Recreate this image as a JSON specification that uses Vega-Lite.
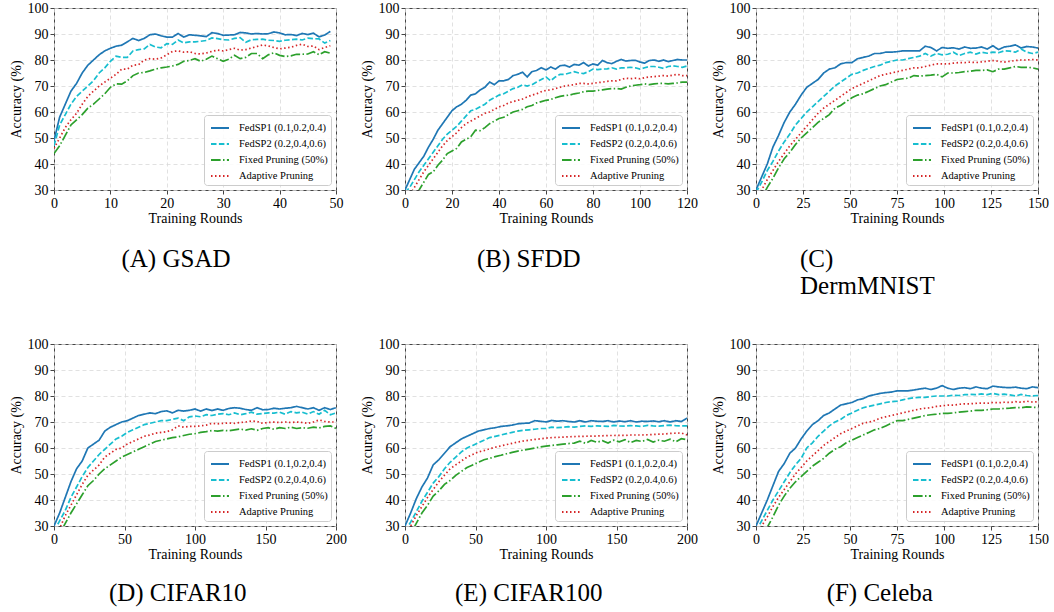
{
  "$schema": "https://vega.github.io/schema/vega-lite/v6.json",
  "padding": {"left": 8, "top": 0, "right": 0, "bottom": 0},
  "background": "white",
  "datasets": {
    "acc": [
      {"p":"A","r":0,"a":49,"b":47,"c":44,"d":46},
      {"p":"A","r":1,"a":58,"b":55,"c":47,"d":50},
      {"p":"A","r":2,"a":63,"b":59,"c":51,"d":54},
      {"p":"A","r":3,"a":68,"b":63,"c":55,"d":57},
      {"p":"A","r":4,"a":71,"b":66,"c":57,"d":59.5},
      {"p":"A","r":5,"a":75,"b":68,"c":59,"d":63},
      {"p":"A","r":6,"a":78,"b":70,"c":61.5,"d":66},
      {"p":"A","r":7,"a":80,"b":72,"c":63,"d":68},
      {"p":"A","r":8,"a":82,"b":75,"c":65,"d":70},
      {"p":"A","r":9,"a":83.5,"b":77,"c":67,"d":71.5},
      {"p":"A","r":10,"a":84.5,"b":79.5,"c":69.5,"d":73},
      {"p":"A","r":11,"a":85.3,"b":81.5,"c":70.8,"d":74.5},
      {"p":"A","r":12,"a":85.7,"b":81,"c":70.7,"d":76.5},
      {"p":"A","r":13,"a":87,"b":81,"c":72,"d":76.5},
      {"p":"A","r":14,"a":88.3,"b":83.5,"c":74,"d":78},
      {"p":"A","r":15,"a":87.5,"b":84,"c":75,"d":78.2},
      {"p":"A","r":16,"a":88.3,"b":84.3,"c":75.2,"d":80},
      {"p":"A","r":17,"a":89.7,"b":86,"c":75.8,"d":80.5},
      {"p":"A","r":18,"a":90,"b":85,"c":76.5,"d":80.3},
      {"p":"A","r":19,"a":89.3,"b":84.7,"c":77,"d":80.8},
      {"p":"A","r":20,"a":88.8,"b":86.3,"c":77.3,"d":82},
      {"p":"A","r":21,"a":88.8,"b":86,"c":77.7,"d":83.3},
      {"p":"A","r":22,"a":90.2,"b":87.7,"c":78.3,"d":83.5},
      {"p":"A","r":23,"a":88.8,"b":86.6,"c":79.5,"d":83},
      {"p":"A","r":24,"a":89.7,"b":87,"c":79.8,"d":83.2},
      {"p":"A","r":25,"a":89.5,"b":87,"c":80.5,"d":82.5},
      {"p":"A","r":26,"a":89.3,"b":87.2,"c":79.5,"d":82.3},
      {"p":"A","r":27,"a":89,"b":87.5,"c":80.3,"d":82.7},
      {"p":"A","r":28,"a":90.5,"b":88.5,"c":81.5,"d":83.3},
      {"p":"A","r":29,"a":90.2,"b":88.2,"c":80.5,"d":83.8},
      {"p":"A","r":30,"a":89.5,"b":87.8,"c":79.5,"d":83.5},
      {"p":"A","r":31,"a":89.6,"b":87.7,"c":80.3,"d":84},
      {"p":"A","r":32,"a":89.7,"b":88.3,"c":81.8,"d":84.5},
      {"p":"A","r":33,"a":90.6,"b":88.6,"c":80.5,"d":83.8},
      {"p":"A","r":34,"a":90.4,"b":86.8,"c":81,"d":84},
      {"p":"A","r":35,"a":90,"b":87.8,"c":82.5,"d":84.6},
      {"p":"A","r":36,"a":90.2,"b":87.9,"c":82.5,"d":85.2},
      {"p":"A","r":37,"a":90,"b":88,"c":80.5,"d":85.8},
      {"p":"A","r":38,"a":90.1,"b":87.6,"c":82,"d":85.4},
      {"p":"A","r":39,"a":90.8,"b":87.5,"c":82.8,"d":84.8},
      {"p":"A","r":40,"a":90.4,"b":87.2,"c":81.8,"d":84.3},
      {"p":"A","r":41,"a":89.7,"b":87.6,"c":81.3,"d":84.6},
      {"p":"A","r":42,"a":89.8,"b":87.8,"c":81.6,"d":84.9},
      {"p":"A","r":43,"a":89.4,"b":88,"c":82.2,"d":85.6},
      {"p":"A","r":44,"a":90.2,"b":87.7,"c":82.2,"d":86.1},
      {"p":"A","r":45,"a":89.8,"b":88.4,"c":82.3,"d":85.2},
      {"p":"A","r":46,"a":90.3,"b":88.2,"c":83.2,"d":85.4},
      {"p":"A","r":47,"a":88.9,"b":88.1,"c":82,"d":84},
      {"p":"A","r":48,"a":89.6,"b":86.5,"c":83.2,"d":84.8},
      {"p":"A","r":49,"a":91,"b":87.5,"c":82.6,"d":85.5},

      {"p":"B","r":0,"a":30,"b":29,"c":25,"d":26},
      {"p":"B","r":2,"a":34,"b":31,"c":26,"d":28},
      {"p":"B","r":4,"a":38,"b":34,"c":28,"d":31},
      {"p":"B","r":6,"a":40.5,"b":37,"c":30,"d":34},
      {"p":"B","r":8,"a":43,"b":39.5,"c":33,"d":37},
      {"p":"B","r":10,"a":46.5,"b":42,"c":36,"d":39.5},
      {"p":"B","r":12,"a":49.5,"b":44.5,"c":37,"d":42},
      {"p":"B","r":14,"a":53,"b":47,"c":39.5,"d":44.5},
      {"p":"B","r":16,"a":55.5,"b":49.5,"c":41.5,"d":47},
      {"p":"B","r":18,"a":58,"b":51.5,"c":44,"d":49},
      {"p":"B","r":20,"a":60.5,"b":53,"c":45,"d":50.5},
      {"p":"B","r":22,"a":62,"b":54.5,"c":46,"d":52},
      {"p":"B","r":24,"a":63,"b":56.5,"c":48.5,"d":54},
      {"p":"B","r":26,"a":64.5,"b":58.5,"c":49.5,"d":55.5},
      {"p":"B","r":28,"a":66.5,"b":60.5,"c":50.5,"d":56.5},
      {"p":"B","r":30,"a":67,"b":61,"c":53,"d":57.5},
      {"p":"B","r":32,"a":68.5,"b":62,"c":52.8,"d":58.5},
      {"p":"B","r":34,"a":69.5,"b":63,"c":54,"d":59.5},
      {"p":"B","r":36,"a":71.5,"b":64.5,"c":55.5,"d":60},
      {"p":"B","r":38,"a":70.5,"b":65.5,"c":56.5,"d":61},
      {"p":"B","r":40,"a":72,"b":66.5,"c":57.5,"d":62},
      {"p":"B","r":42,"a":72,"b":67,"c":58,"d":62.5},
      {"p":"B","r":44,"a":72.5,"b":68,"c":59,"d":63.5},
      {"p":"B","r":46,"a":74,"b":69,"c":60,"d":64},
      {"p":"B","r":48,"a":74.5,"b":69.5,"c":60.5,"d":64.5},
      {"p":"B","r":50,"a":75.3,"b":70.5,"c":61,"d":65},
      {"p":"B","r":52,"a":73.5,"b":70,"c":62,"d":65.8},
      {"p":"B","r":54,"a":75.5,"b":70.5,"c":62.5,"d":66.5},
      {"p":"B","r":56,"a":76,"b":71.5,"c":63.5,"d":67},
      {"p":"B","r":58,"a":77,"b":72.5,"c":64,"d":67.8},
      {"p":"B","r":60,"a":76.2,"b":73.5,"c":64.5,"d":68.3},
      {"p":"B","r":62,"a":77.3,"b":72,"c":64.8,"d":68.5},
      {"p":"B","r":64,"a":76.5,"b":73.5,"c":65.5,"d":69},
      {"p":"B","r":66,"a":77.8,"b":74.5,"c":66,"d":69.5},
      {"p":"B","r":68,"a":78,"b":74.5,"c":66.3,"d":70},
      {"p":"B","r":70,"a":77.3,"b":75,"c":66.5,"d":70.3},
      {"p":"B","r":72,"a":78.3,"b":75.5,"c":67,"d":70.5},
      {"p":"B","r":74,"a":78,"b":75,"c":67.3,"d":71},
      {"p":"B","r":76,"a":79,"b":74.8,"c":67.8,"d":71},
      {"p":"B","r":78,"a":77.7,"b":75.5,"c":68,"d":70.8},
      {"p":"B","r":80,"a":78.5,"b":76.5,"c":68,"d":71},
      {"p":"B","r":82,"a":78,"b":76.3,"c":68.3,"d":71.3},
      {"p":"B","r":84,"a":79.8,"b":76.5,"c":68.5,"d":71.5},
      {"p":"B","r":86,"a":79,"b":76.6,"c":68.8,"d":71.8},
      {"p":"B","r":88,"a":78.6,"b":77,"c":69,"d":72},
      {"p":"B","r":90,"a":79.5,"b":76.5,"c":69,"d":72},
      {"p":"B","r":92,"a":80.2,"b":77,"c":68.8,"d":72.5},
      {"p":"B","r":94,"a":79.6,"b":77,"c":69.5,"d":73},
      {"p":"B","r":96,"a":79.8,"b":77.2,"c":70,"d":72.8},
      {"p":"B","r":98,"a":79.9,"b":77,"c":70.3,"d":73},
      {"p":"B","r":100,"a":79.2,"b":76.5,"c":70.5,"d":72.8},
      {"p":"B","r":102,"a":78.8,"b":77,"c":70.8,"d":73.2},
      {"p":"B","r":104,"a":79.8,"b":77.5,"c":70.5,"d":73.5},
      {"p":"B","r":106,"a":80,"b":77.5,"c":70.8,"d":73.6},
      {"p":"B","r":108,"a":79.5,"b":77.2,"c":71,"d":73.8},
      {"p":"B","r":110,"a":80,"b":76.8,"c":71,"d":74},
      {"p":"B","r":112,"a":79.4,"b":77.5,"c":70.8,"d":73.8},
      {"p":"B","r":114,"a":79.8,"b":77.8,"c":71,"d":74.2},
      {"p":"B","r":116,"a":80.2,"b":77.5,"c":71.2,"d":74.5},
      {"p":"B","r":118,"a":80,"b":77.2,"c":71.5,"d":74},
      {"p":"B","r":120,"a":80,"b":77.7,"c":71.5,"d":74},

      {"p":"C","r":0,"a":30,"b":29,"c":25,"d":27},
      {"p":"C","r":3,"a":35,"b":33,"c":27,"d":30},
      {"p":"C","r":6,"a":40,"b":37.5,"c":31,"d":34},
      {"p":"C","r":9,"a":46.5,"b":41,"c":34.5,"d":37.5},
      {"p":"C","r":12,"a":51,"b":45,"c":38.5,"d":41},
      {"p":"C","r":15,"a":56,"b":48.5,"c":42,"d":44},
      {"p":"C","r":18,"a":60,"b":51.5,"c":44.5,"d":47},
      {"p":"C","r":21,"a":63,"b":55,"c":47.5,"d":49.5},
      {"p":"C","r":24,"a":66.5,"b":57.5,"c":50,"d":52},
      {"p":"C","r":27,"a":69.5,"b":60,"c":52,"d":54.5},
      {"p":"C","r":30,"a":71,"b":62,"c":54,"d":57},
      {"p":"C","r":33,"a":72.5,"b":64,"c":56,"d":59.5},
      {"p":"C","r":36,"a":75,"b":66,"c":57.5,"d":61.5},
      {"p":"C","r":39,"a":76.5,"b":68,"c":59,"d":63},
      {"p":"C","r":42,"a":77,"b":70,"c":61.5,"d":64.5},
      {"p":"C","r":45,"a":78.5,"b":71.5,"c":62.5,"d":66},
      {"p":"C","r":48,"a":79,"b":73,"c":64,"d":67.5},
      {"p":"C","r":51,"a":79,"b":74.5,"c":65.5,"d":69},
      {"p":"C","r":54,"a":80.5,"b":75,"c":66.5,"d":70},
      {"p":"C","r":57,"a":81,"b":76,"c":67,"d":71},
      {"p":"C","r":60,"a":81.5,"b":76.8,"c":68,"d":72},
      {"p":"C","r":63,"a":82.5,"b":77.5,"c":69,"d":73},
      {"p":"C","r":66,"a":82.5,"b":78,"c":70,"d":74},
      {"p":"C","r":69,"a":83,"b":79,"c":70.5,"d":74.5},
      {"p":"C","r":72,"a":83,"b":79.5,"c":71.5,"d":75},
      {"p":"C","r":75,"a":83.2,"b":80,"c":72.5,"d":75.5},
      {"p":"C","r":78,"a":83.5,"b":80,"c":72.8,"d":76},
      {"p":"C","r":81,"a":83.5,"b":80.5,"c":73,"d":76.5},
      {"p":"C","r":84,"a":83.5,"b":81,"c":74,"d":77},
      {"p":"C","r":87,"a":83.5,"b":81.5,"c":73.8,"d":77},
      {"p":"C","r":90,"a":85.3,"b":82.5,"c":74,"d":77.5},
      {"p":"C","r":93,"a":84.8,"b":81.5,"c":74.2,"d":78},
      {"p":"C","r":96,"a":83.5,"b":82.5,"c":74.5,"d":78.5},
      {"p":"C","r":99,"a":84.8,"b":82,"c":73.5,"d":78.5},
      {"p":"C","r":102,"a":84.5,"b":82.2,"c":75,"d":78.5},
      {"p":"C","r":105,"a":84.7,"b":83,"c":75,"d":78.8},
      {"p":"C","r":108,"a":84.2,"b":81.7,"c":75.2,"d":79},
      {"p":"C","r":111,"a":85,"b":82.5,"c":75.5,"d":79},
      {"p":"C","r":114,"a":84.5,"b":83,"c":75.7,"d":79.2},
      {"p":"C","r":117,"a":84.6,"b":82.3,"c":76,"d":79},
      {"p":"C","r":120,"a":85,"b":83,"c":76,"d":79.3},
      {"p":"C","r":123,"a":84.2,"b":82.6,"c":76.2,"d":79.5},
      {"p":"C","r":126,"a":85.5,"b":83,"c":75.5,"d":79.8},
      {"p":"C","r":129,"a":84,"b":82.8,"c":76.5,"d":79.5},
      {"p":"C","r":132,"a":85,"b":83.5,"c":76.5,"d":79.2},
      {"p":"C","r":135,"a":85.3,"b":83.4,"c":77,"d":79.5},
      {"p":"C","r":138,"a":85.8,"b":83,"c":77.5,"d":79.8},
      {"p":"C","r":141,"a":84.6,"b":84.2,"c":77.2,"d":80},
      {"p":"C","r":144,"a":85.2,"b":83,"c":77.2,"d":80},
      {"p":"C","r":147,"a":85,"b":82.5,"c":77,"d":80.2},
      {"p":"C","r":150,"a":84.6,"b":83,"c":76.5,"d":80},

      {"p":"D","r":0,"a":30,"b":28,"c":24,"d":26},
      {"p":"D","r":4,"a":35,"b":32,"c":27,"d":29},
      {"p":"D","r":8,"a":41,"b":36,"c":31,"d":34},
      {"p":"D","r":12,"a":47,"b":41,"c":35,"d":38},
      {"p":"D","r":16,"a":52,"b":45,"c":38.5,"d":42},
      {"p":"D","r":20,"a":55,"b":49,"c":42,"d":46},
      {"p":"D","r":24,"a":60,"b":52.5,"c":45.5,"d":49.5},
      {"p":"D","r":28,"a":61.5,"b":55,"c":47.5,"d":51.5},
      {"p":"D","r":32,"a":63,"b":57.5,"c":50,"d":53.5},
      {"p":"D","r":36,"a":66.5,"b":59.5,"c":52,"d":56.5},
      {"p":"D","r":40,"a":68,"b":61.5,"c":53.5,"d":58},
      {"p":"D","r":44,"a":69,"b":63.5,"c":55,"d":59.5},
      {"p":"D","r":48,"a":70,"b":64.5,"c":56.5,"d":60},
      {"p":"D","r":52,"a":70.5,"b":66,"c":57.5,"d":61.5},
      {"p":"D","r":56,"a":71.5,"b":67,"c":58.5,"d":62.5},
      {"p":"D","r":60,"a":72.5,"b":68,"c":59.5,"d":63.5},
      {"p":"D","r":64,"a":73,"b":69,"c":60.5,"d":64.5},
      {"p":"D","r":68,"a":73.5,"b":69.5,"c":61.5,"d":65},
      {"p":"D","r":72,"a":73.2,"b":70,"c":62.5,"d":65.7},
      {"p":"D","r":76,"a":74,"b":70.5,"c":63,"d":66},
      {"p":"D","r":80,"a":74.3,"b":70.5,"c":63.5,"d":66.3},
      {"p":"D","r":84,"a":73.5,"b":71,"c":64,"d":67},
      {"p":"D","r":88,"a":74.5,"b":71.5,"c":64.3,"d":68.5},
      {"p":"D","r":92,"a":74.2,"b":70.5,"c":64.8,"d":68},
      {"p":"D","r":96,"a":74.5,"b":72,"c":65.3,"d":68.3},
      {"p":"D","r":100,"a":75,"b":72.3,"c":65.5,"d":68.3},
      {"p":"D","r":104,"a":74.2,"b":72,"c":66,"d":68.5},
      {"p":"D","r":108,"a":75,"b":72.8,"c":66.3,"d":68.8},
      {"p":"D","r":112,"a":74.4,"b":72.5,"c":66.7,"d":69.5},
      {"p":"D","r":116,"a":75,"b":73,"c":66.5,"d":69.3},
      {"p":"D","r":120,"a":74.5,"b":73.2,"c":66.8,"d":69.5},
      {"p":"D","r":124,"a":75.2,"b":72.8,"c":66.6,"d":69.6},
      {"p":"D","r":128,"a":75.5,"b":73.5,"c":67,"d":69.5},
      {"p":"D","r":132,"a":75.3,"b":72.8,"c":67.3,"d":69.8},
      {"p":"D","r":136,"a":74.8,"b":73.2,"c":66.9,"d":70},
      {"p":"D","r":140,"a":74.5,"b":73.8,"c":67.4,"d":70.4},
      {"p":"D","r":144,"a":75.5,"b":73,"c":66.8,"d":70.2},
      {"p":"D","r":148,"a":74.7,"b":73.3,"c":67.5,"d":69.5},
      {"p":"D","r":152,"a":74.8,"b":73.5,"c":67.8,"d":69.8},
      {"p":"D","r":156,"a":75.3,"b":73.4,"c":67.2,"d":70},
      {"p":"D","r":160,"a":75,"b":73.8,"c":67.8,"d":69.8},
      {"p":"D","r":164,"a":75.3,"b":73,"c":67.5,"d":70},
      {"p":"D","r":168,"a":75.5,"b":74,"c":68,"d":69.8},
      {"p":"D","r":172,"a":76,"b":73.5,"c":67.5,"d":70},
      {"p":"D","r":176,"a":75.5,"b":73.8,"c":67.8,"d":69.8},
      {"p":"D","r":180,"a":75,"b":73,"c":67.6,"d":69.5},
      {"p":"D","r":184,"a":75.5,"b":74,"c":68,"d":70},
      {"p":"D","r":188,"a":74.5,"b":73,"c":67.7,"d":70.8},
      {"p":"D","r":192,"a":75.5,"b":74.5,"c":68.3,"d":70.2},
      {"p":"D","r":196,"a":74.8,"b":72.8,"c":68.5,"d":70},
      {"p":"D","r":200,"a":75.5,"b":73.5,"c":67.5,"d":70},

      {"p":"E","r":0,"a":30,"b":28,"c":24,"d":26},
      {"p":"E","r":4,"a":35,"b":31.5,"c":27,"d":30},
      {"p":"E","r":8,"a":40.5,"b":35.5,"c":31,"d":34},
      {"p":"E","r":12,"a":45,"b":39.5,"c":35,"d":37.5},
      {"p":"E","r":16,"a":48.5,"b":43,"c":38,"d":41},
      {"p":"E","r":20,"a":53.5,"b":46.5,"c":41.5,"d":44},
      {"p":"E","r":24,"a":55.5,"b":49,"c":43.5,"d":47},
      {"p":"E","r":28,"a":58,"b":52,"c":46,"d":49.5},
      {"p":"E","r":32,"a":60.5,"b":54.5,"c":47.5,"d":52},
      {"p":"E","r":36,"a":62,"b":56.5,"c":49.5,"d":53.5},
      {"p":"E","r":40,"a":63.5,"b":58.5,"c":51,"d":55},
      {"p":"E","r":44,"a":64.5,"b":60,"c":52.5,"d":56.5},
      {"p":"E","r":48,"a":65.5,"b":61,"c":53.5,"d":57.5},
      {"p":"E","r":52,"a":66.5,"b":62,"c":54.5,"d":58.5},
      {"p":"E","r":56,"a":67,"b":63,"c":55.5,"d":59},
      {"p":"E","r":60,"a":67.5,"b":64,"c":56,"d":59.7},
      {"p":"E","r":64,"a":67.8,"b":64.5,"c":56.7,"d":60.3},
      {"p":"E","r":68,"a":68.3,"b":65,"c":57.2,"d":60.8},
      {"p":"E","r":72,"a":68.5,"b":65.5,"c":57.8,"d":61.3},
      {"p":"E","r":76,"a":68.8,"b":66,"c":58.3,"d":61.8},
      {"p":"E","r":80,"a":69.3,"b":66.5,"c":58.8,"d":62.3},
      {"p":"E","r":84,"a":69.5,"b":66.8,"c":59.2,"d":62.7},
      {"p":"E","r":88,"a":69.6,"b":67,"c":59.6,"d":63},
      {"p":"E","r":92,"a":70.5,"b":67.2,"c":60,"d":63.3},
      {"p":"E","r":96,"a":70.3,"b":67.5,"c":60.4,"d":63.5},
      {"p":"E","r":100,"a":70,"b":67.5,"c":60.7,"d":63.8},
      {"p":"E","r":104,"a":70.6,"b":68,"c":61,"d":64},
      {"p":"E","r":108,"a":70.3,"b":67.8,"c":61.2,"d":64.1},
      {"p":"E","r":112,"a":70.5,"b":68,"c":61.5,"d":64.2},
      {"p":"E","r":116,"a":70.2,"b":68.2,"c":61.7,"d":64.3},
      {"p":"E","r":120,"a":70,"b":68,"c":61.9,"d":64.4},
      {"p":"E","r":124,"a":70.5,"b":68.3,"c":62.6,"d":64.5},
      {"p":"E","r":128,"a":70,"b":68.5,"c":61.8,"d":64.5},
      {"p":"E","r":132,"a":70.5,"b":68.3,"c":62.9,"d":64.6},
      {"p":"E","r":136,"a":70.3,"b":68.5,"c":62.2,"d":64.6},
      {"p":"E","r":140,"a":70.2,"b":68.4,"c":62.8,"d":64.7},
      {"p":"E","r":144,"a":70.5,"b":68.3,"c":61.9,"d":64.8},
      {"p":"E","r":148,"a":70,"b":68.7,"c":63,"d":64.8},
      {"p":"E","r":152,"a":70.4,"b":68.5,"c":62.4,"d":64.9},
      {"p":"E","r":156,"a":70.1,"b":68.4,"c":63.2,"d":64.8},
      {"p":"E","r":160,"a":70.5,"b":68.6,"c":62.1,"d":65},
      {"p":"E","r":164,"a":70,"b":68.5,"c":62.9,"d":65},
      {"p":"E","r":168,"a":70.3,"b":68.3,"c":62.5,"d":65},
      {"p":"E","r":172,"a":70.2,"b":68.7,"c":63.3,"d":65.1},
      {"p":"E","r":176,"a":70.4,"b":68.5,"c":62.3,"d":65.2},
      {"p":"E","r":180,"a":70.1,"b":68.4,"c":63,"d":65.3},
      {"p":"E","r":184,"a":70.5,"b":68.6,"c":62.6,"d":65.4},
      {"p":"E","r":188,"a":70,"b":68.8,"c":63.4,"d":65.6},
      {"p":"E","r":192,"a":70.5,"b":68.6,"c":62.4,"d":65.7},
      {"p":"E","r":196,"a":70.2,"b":68.5,"c":63.6,"d":65.8},
      {"p":"E","r":200,"a":71.5,"b":68.5,"c":63.2,"d":65},

      {"p":"F","r":0,"a":30,"b":28,"c":24,"d":27},
      {"p":"F","r":3,"a":35,"b":32,"c":26,"d":30},
      {"p":"F","r":6,"a":40,"b":36,"c":29.5,"d":33.5},
      {"p":"F","r":9,"a":45.5,"b":40,"c":33.5,"d":37.5},
      {"p":"F","r":12,"a":51,"b":43.5,"c":38,"d":41},
      {"p":"F","r":15,"a":54,"b":47,"c":41.5,"d":44},
      {"p":"F","r":18,"a":58,"b":50.5,"c":44.5,"d":47},
      {"p":"F","r":21,"a":60,"b":53.5,"c":47,"d":50},
      {"p":"F","r":24,"a":63.5,"b":56,"c":49,"d":52.5},
      {"p":"F","r":27,"a":66.5,"b":60,"c":51,"d":55},
      {"p":"F","r":30,"a":69,"b":62,"c":53,"d":57},
      {"p":"F","r":33,"a":70.5,"b":64.5,"c":54.5,"d":59},
      {"p":"F","r":36,"a":72.5,"b":66.5,"c":56,"d":61},
      {"p":"F","r":39,"a":73.5,"b":68.5,"c":58,"d":62.5},
      {"p":"F","r":42,"a":75,"b":70,"c":59.5,"d":64},
      {"p":"F","r":45,"a":76.5,"b":71,"c":60.5,"d":65.5},
      {"p":"F","r":48,"a":77,"b":72.5,"c":62,"d":66.5},
      {"p":"F","r":51,"a":77.5,"b":73.5,"c":63,"d":67.5},
      {"p":"F","r":54,"a":78.5,"b":74.5,"c":64,"d":68.5},
      {"p":"F","r":57,"a":79,"b":75.5,"c":65,"d":69.5},
      {"p":"F","r":60,"a":80,"b":76,"c":66,"d":70},
      {"p":"F","r":63,"a":80.5,"b":76.5,"c":67,"d":70.5},
      {"p":"F","r":66,"a":81,"b":77,"c":67.5,"d":71.5},
      {"p":"F","r":69,"a":81.3,"b":77.5,"c":68.5,"d":72},
      {"p":"F","r":72,"a":81.5,"b":77.8,"c":69.5,"d":72.5},
      {"p":"F","r":75,"a":82,"b":78,"c":70.5,"d":73},
      {"p":"F","r":78,"a":82,"b":78.5,"c":70.5,"d":73.5},
      {"p":"F","r":81,"a":82,"b":79,"c":71,"d":74},
      {"p":"F","r":84,"a":82.3,"b":79.3,"c":71.5,"d":74.5},
      {"p":"F","r":87,"a":82.7,"b":79.5,"c":72,"d":75},
      {"p":"F","r":90,"a":83,"b":79.5,"c":72.5,"d":75.3},
      {"p":"F","r":93,"a":82.5,"b":79.8,"c":72.8,"d":75.5},
      {"p":"F","r":96,"a":83,"b":80,"c":73,"d":76},
      {"p":"F","r":99,"a":84,"b":80,"c":73.3,"d":76.2},
      {"p":"F","r":102,"a":83,"b":80,"c":73.3,"d":76.5},
      {"p":"F","r":105,"a":82.5,"b":80.3,"c":73.5,"d":76.5},
      {"p":"F","r":108,"a":83,"b":80.2,"c":73.8,"d":76.8},
      {"p":"F","r":111,"a":83.2,"b":80.5,"c":74,"d":77},
      {"p":"F","r":114,"a":82.8,"b":80.6,"c":74.2,"d":77},
      {"p":"F","r":117,"a":83.5,"b":80.5,"c":74.5,"d":77.2},
      {"p":"F","r":120,"a":83,"b":80.8,"c":74.5,"d":77.3},
      {"p":"F","r":123,"a":82.8,"b":80.5,"c":74.7,"d":77.2},
      {"p":"F","r":126,"a":83.8,"b":81,"c":75,"d":77.5},
      {"p":"F","r":129,"a":83.5,"b":80.5,"c":75,"d":77.4},
      {"p":"F","r":132,"a":83.3,"b":80.7,"c":75.2,"d":77.6},
      {"p":"F","r":135,"a":83.2,"b":80.4,"c":75.3,"d":77.5},
      {"p":"F","r":138,"a":83.4,"b":80,"c":75.5,"d":77.8},
      {"p":"F","r":141,"a":83,"b":80.6,"c":75.5,"d":77.6},
      {"p":"F","r":144,"a":82.8,"b":80.2,"c":75.8,"d":78},
      {"p":"F","r":147,"a":83.5,"b":80,"c":75.7,"d":77.7},
      {"p":"F","r":150,"a":83.2,"b":80.2,"c":75.5,"d":77.8}
    ]
  },
  "data": {"name": "acc"},
  "transform": [{"fold": ["a", "b", "c", "d"], "as": ["k", "v"]}],
  "columns": 3,
  "spacing": {"column": 12, "row": 36},
  "resolve": {
    "scale": {"x": "independent", "y": "independent", "color": "independent", "strokeDash": "independent"},
    "legend": {"color": "independent", "strokeDash": "independent"}
  },
  "concat": [
    {
      "width": 282, "height": 182,
      "transform": [{"filter": "datum.p == 'A'"}],
      "title": {"text": "(A) GSAD", "orient": "bottom", "anchor": "middle", "frame": "bounds", "offset": 22},
      "mark": {"type": "line", "clip": true, "strokeWidth": 1.7},
      "encoding": {
        "x": {"field": "r", "type": "quantitative", "scale": {"domain": [0, 50], "nice": false, "zero": false}, "axis": {"values": [0, 10, 20, 30, 40, 50], "title": "Training Rounds"}},
        "y": {"field": "v", "type": "quantitative", "scale": {"domain": [30, 100], "nice": false, "zero": false}, "axis": {"values": [30, 40, 50, 60, 70, 80, 90, 100], "title": "Accuracy (%)"}},
        "color": {"field": "k", "type": "nominal", "scale": {"domain": ["a", "b", "c", "d"], "range": ["#1f77b4", "#17becf", "#2ca02c", "#d62728"]}, "legend": {"title": null, "labelExpr": "datum.value == 'a' ? 'FedSP1 (0.1,0.2,0.4)' : datum.value == 'b' ? 'FedSP2 (0.2,0.4,0.6)' : datum.value == 'c' ? 'Fixed Pruning (50%)' : 'Adaptive Pruning'"}},
        "strokeDash": {"field": "k", "type": "nominal", "scale": {"domain": ["a", "b", "c", "d"], "range": [[1, 0], [5.5, 2.4], [9.6, 2.4, 1.5, 2.4], [1.5, 2.5]]}, "legend": {"title": null, "labelExpr": "datum.value == 'a' ? 'FedSP1 (0.1,0.2,0.4)' : datum.value == 'b' ? 'FedSP2 (0.2,0.4,0.6)' : datum.value == 'c' ? 'Fixed Pruning (50%)' : 'Adaptive Pruning'"}}
      }
    },
    {
      "width": 282, "height": 182,
      "transform": [{"filter": "datum.p == 'B'"}],
      "title": {"text": "(B) SFDD", "orient": "bottom", "anchor": "middle", "frame": "bounds", "offset": 22},
      "mark": {"type": "line", "clip": true, "strokeWidth": 1.7},
      "encoding": {
        "x": {"field": "r", "type": "quantitative", "scale": {"domain": [0, 120], "nice": false, "zero": false}, "axis": {"values": [0, 20, 40, 60, 80, 100, 120], "title": "Training Rounds"}},
        "y": {"field": "v", "type": "quantitative", "scale": {"domain": [30, 100], "nice": false, "zero": false}, "axis": {"values": [30, 40, 50, 60, 70, 80, 90, 100], "title": "Accuracy (%)"}},
        "color": {"field": "k", "type": "nominal", "scale": {"domain": ["a", "b", "c", "d"], "range": ["#1f77b4", "#17becf", "#2ca02c", "#d62728"]}, "legend": {"title": null, "labelExpr": "datum.value == 'a' ? 'FedSP1 (0.1,0.2,0.4)' : datum.value == 'b' ? 'FedSP2 (0.2,0.4,0.6)' : datum.value == 'c' ? 'Fixed Pruning (50%)' : 'Adaptive Pruning'"}},
        "strokeDash": {"field": "k", "type": "nominal", "scale": {"domain": ["a", "b", "c", "d"], "range": [[1, 0], [5.5, 2.4], [9.6, 2.4, 1.5, 2.4], [1.5, 2.5]]}, "legend": {"title": null, "labelExpr": "datum.value == 'a' ? 'FedSP1 (0.1,0.2,0.4)' : datum.value == 'b' ? 'FedSP2 (0.2,0.4,0.6)' : datum.value == 'c' ? 'Fixed Pruning (50%)' : 'Adaptive Pruning'"}}
      }
    },
    {
      "width": 282, "height": 182,
      "transform": [{"filter": "datum.p == 'C'"}],
      "title": {"text": ["(C)", "DermMNIST"], "orient": "bottom", "anchor": "start", "frame": "group", "dx": 44, "offset": 22, "lineHeight": 27},
      "mark": {"type": "line", "clip": true, "strokeWidth": 1.7},
      "encoding": {
        "x": {"field": "r", "type": "quantitative", "scale": {"domain": [0, 150], "nice": false, "zero": false}, "axis": {"values": [0, 25, 50, 75, 100, 125, 150], "title": "Training Rounds"}},
        "y": {"field": "v", "type": "quantitative", "scale": {"domain": [30, 100], "nice": false, "zero": false}, "axis": {"values": [30, 40, 50, 60, 70, 80, 90, 100], "title": "Accuracy (%)"}},
        "color": {"field": "k", "type": "nominal", "scale": {"domain": ["a", "b", "c", "d"], "range": ["#1f77b4", "#17becf", "#2ca02c", "#d62728"]}, "legend": {"title": null, "labelExpr": "datum.value == 'a' ? 'FedSP1 (0.1,0.2,0.4)' : datum.value == 'b' ? 'FedSP2 (0.2,0.4,0.6)' : datum.value == 'c' ? 'Fixed Pruning (50%)' : 'Adaptive Pruning'"}},
        "strokeDash": {"field": "k", "type": "nominal", "scale": {"domain": ["a", "b", "c", "d"], "range": [[1, 0], [5.5, 2.4], [9.6, 2.4, 1.5, 2.4], [1.5, 2.5]]}, "legend": {"title": null, "labelExpr": "datum.value == 'a' ? 'FedSP1 (0.1,0.2,0.4)' : datum.value == 'b' ? 'FedSP2 (0.2,0.4,0.6)' : datum.value == 'c' ? 'Fixed Pruning (50%)' : 'Adaptive Pruning'"}}
      }
    },
    {
      "width": 282, "height": 182,
      "transform": [{"filter": "datum.p == 'D'"}],
      "title": {"text": "(D) CIFAR10", "orient": "bottom", "anchor": "middle", "frame": "bounds", "offset": 20},
      "mark": {"type": "line", "clip": true, "strokeWidth": 1.7},
      "encoding": {
        "x": {"field": "r", "type": "quantitative", "scale": {"domain": [0, 200], "nice": false, "zero": false}, "axis": {"values": [0, 50, 100, 150, 200], "title": "Training Rounds"}},
        "y": {"field": "v", "type": "quantitative", "scale": {"domain": [30, 100], "nice": false, "zero": false}, "axis": {"values": [30, 40, 50, 60, 70, 80, 90, 100], "title": "Accuracy (%)"}},
        "color": {"field": "k", "type": "nominal", "scale": {"domain": ["a", "b", "c", "d"], "range": ["#1f77b4", "#17becf", "#2ca02c", "#d62728"]}, "legend": {"title": null, "labelExpr": "datum.value == 'a' ? 'FedSP1 (0.1,0.2,0.4)' : datum.value == 'b' ? 'FedSP2 (0.2,0.4,0.6)' : datum.value == 'c' ? 'Fixed Pruning (50%)' : 'Adaptive Pruning'"}},
        "strokeDash": {"field": "k", "type": "nominal", "scale": {"domain": ["a", "b", "c", "d"], "range": [[1, 0], [5.5, 2.4], [9.6, 2.4, 1.5, 2.4], [1.5, 2.5]]}, "legend": {"title": null, "labelExpr": "datum.value == 'a' ? 'FedSP1 (0.1,0.2,0.4)' : datum.value == 'b' ? 'FedSP2 (0.2,0.4,0.6)' : datum.value == 'c' ? 'Fixed Pruning (50%)' : 'Adaptive Pruning'"}}
      }
    },
    {
      "width": 282, "height": 182,
      "transform": [{"filter": "datum.p == 'E'"}],
      "title": {"text": "(E) CIFAR100", "orient": "bottom", "anchor": "middle", "frame": "bounds", "offset": 20},
      "mark": {"type": "line", "clip": true, "strokeWidth": 1.7},
      "encoding": {
        "x": {"field": "r", "type": "quantitative", "scale": {"domain": [0, 200], "nice": false, "zero": false}, "axis": {"values": [0, 50, 100, 150, 200], "title": "Training Rounds"}},
        "y": {"field": "v", "type": "quantitative", "scale": {"domain": [30, 100], "nice": false, "zero": false}, "axis": {"values": [30, 40, 50, 60, 70, 80, 90, 100], "title": "Accuracy (%)"}},
        "color": {"field": "k", "type": "nominal", "scale": {"domain": ["a", "b", "c", "d"], "range": ["#1f77b4", "#17becf", "#2ca02c", "#d62728"]}, "legend": {"title": null, "labelExpr": "datum.value == 'a' ? 'FedSP1 (0.1,0.2,0.4)' : datum.value == 'b' ? 'FedSP2 (0.2,0.4,0.6)' : datum.value == 'c' ? 'Fixed Pruning (50%)' : 'Adaptive Pruning'"}},
        "strokeDash": {"field": "k", "type": "nominal", "scale": {"domain": ["a", "b", "c", "d"], "range": [[1, 0], [5.5, 2.4], [9.6, 2.4, 1.5, 2.4], [1.5, 2.5]]}, "legend": {"title": null, "labelExpr": "datum.value == 'a' ? 'FedSP1 (0.1,0.2,0.4)' : datum.value == 'b' ? 'FedSP2 (0.2,0.4,0.6)' : datum.value == 'c' ? 'Fixed Pruning (50%)' : 'Adaptive Pruning'"}}
      }
    },
    {
      "width": 282, "height": 182,
      "transform": [{"filter": "datum.p == 'F'"}],
      "title": {"text": "(F) Celeba", "orient": "bottom", "anchor": "middle", "frame": "bounds", "offset": 20},
      "mark": {"type": "line", "clip": true, "strokeWidth": 1.7},
      "encoding": {
        "x": {"field": "r", "type": "quantitative", "scale": {"domain": [0, 150], "nice": false, "zero": false}, "axis": {"values": [0, 25, 50, 75, 100, 125, 150], "title": "Training Rounds"}},
        "y": {"field": "v", "type": "quantitative", "scale": {"domain": [30, 100], "nice": false, "zero": false}, "axis": {"values": [30, 40, 50, 60, 70, 80, 90, 100], "title": "Accuracy (%)"}},
        "color": {"field": "k", "type": "nominal", "scale": {"domain": ["a", "b", "c", "d"], "range": ["#1f77b4", "#17becf", "#2ca02c", "#d62728"]}, "legend": {"title": null, "labelExpr": "datum.value == 'a' ? 'FedSP1 (0.1,0.2,0.4)' : datum.value == 'b' ? 'FedSP2 (0.2,0.4,0.6)' : datum.value == 'c' ? 'Fixed Pruning (50%)' : 'Adaptive Pruning'"}},
        "strokeDash": {"field": "k", "type": "nominal", "scale": {"domain": ["a", "b", "c", "d"], "range": [[1, 0], [5.5, 2.4], [9.6, 2.4, 1.5, 2.4], [1.5, 2.5]]}, "legend": {"title": null, "labelExpr": "datum.value == 'a' ? 'FedSP1 (0.1,0.2,0.4)' : datum.value == 'b' ? 'FedSP2 (0.2,0.4,0.6)' : datum.value == 'c' ? 'Fixed Pruning (50%)' : 'Adaptive Pruning'"}}
      }
    }
  ],
  "config": {
    "font": "Liberation Serif",
    "view": {"stroke": "#444444", "strokeWidth": 1},
    "axis": {
      "labelFont": "Liberation Serif", "labelFontSize": 14, "labelColor": "#000000",
      "titleFont": "Liberation Serif", "titleFontSize": 14, "titleFontWeight": "normal", "titleColor": "#000000",
      "grid": true, "gridColor": "#d9d9d9", "gridDash": [4, 3], "gridWidth": 0.8,
      "domain": false, "ticks": true, "tickColor": "#444444", "tickSize": 4, "tickWidth": 1,
      "labelPadding": 2, "labelFlush": false, "labelOverlap": false
    },
    "axisX": {"titlePadding": 1},
    "axisY": {"titlePadding": 4},
    "legend": {
      "orient": "bottom-right", "offset": 5,
      "labelFont": "Liberation Serif", "labelFontSize": 10.5, "labelColor": "#000000", "labelOffset": 9,
      "symbolType": "stroke", "symbolSize": 324, "symbolStrokeWidth": 1.8, "symbolOffset": 3,
      "strokeColor": "#cccccc", "fillColor": "rgba(255,255,255,0.85)", "padding": 3, "cornerRadius": 3, "rowPadding": -3
    },
    "title": {"font": "Liberation Serif", "fontSize": 25, "fontWeight": "normal", "color": "#000000"}
  }
}
